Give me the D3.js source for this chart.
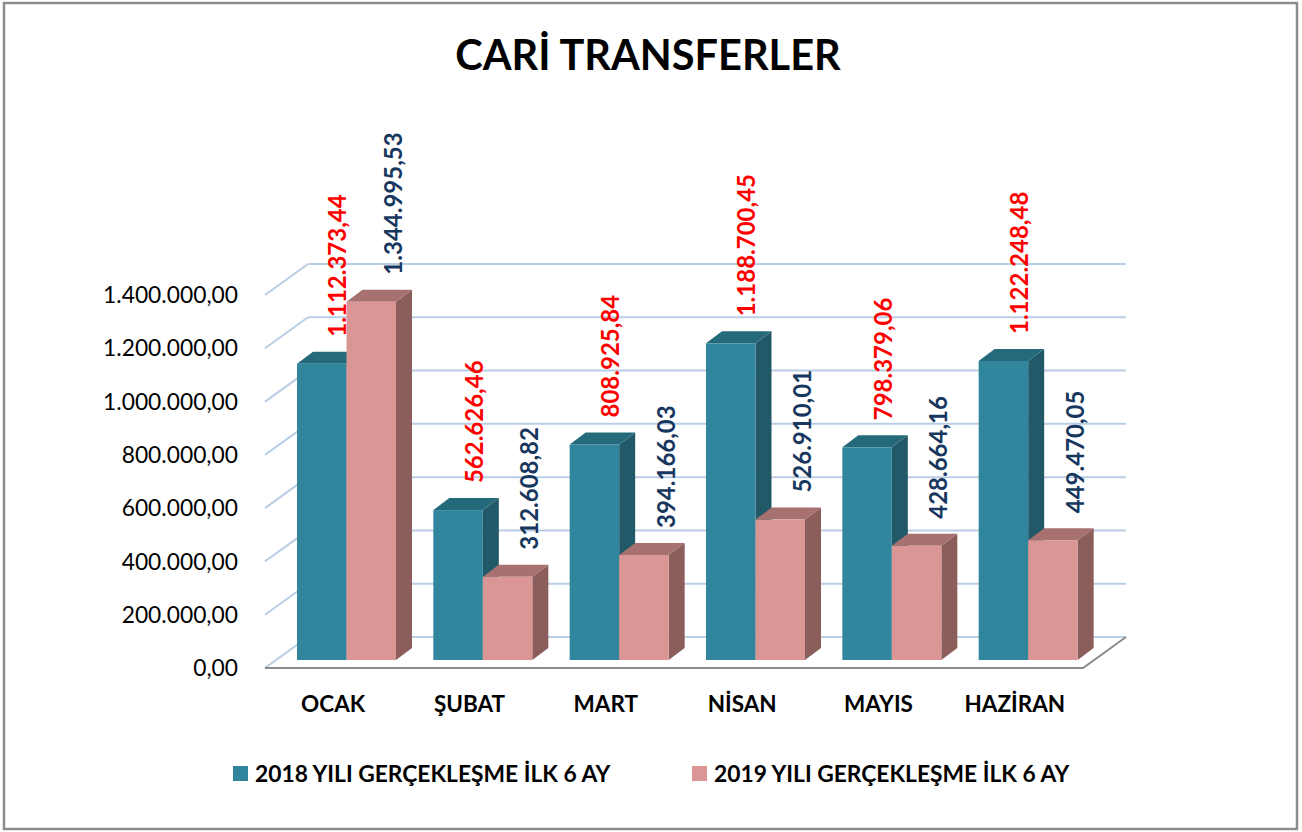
<!DOCTYPE html>
<html><head><meta charset="utf-8">
<script src="https://cdn.jsdelivr.net/npm/d3@7"></script>
<style>html,body{margin:0;padding:0;background:#fff;}svg{display:block;}</style>
</head><body>
<svg id="chart" width="1302" height="832"></svg>
<script>
const categories = ["OCAK","ŞUBAT","MART","NİSAN","MAYIS","HAZİRAN"];
const seriesNames = ["2018 YILI GERÇEKLEŞME İLK 6 AY","2019 YILI GERÇEKLEŞME İLK 6 AY"];
const values2018 = [1112373.44, 562626.46, 808925.84, 1188700.45, 798379.06, 1122248.48];
const values2019 = [1344995.53, 312608.82, 394166.03, 526910.01, 428664.16, 449470.05];
const tickValues = [0,200000,400000,600000,800000,1000000,1200000,1400000];
const title = "CARİ TRANSFERLER";

const FONT = "Lato, 'Open Sans', sans-serif";
const svg = d3.select("#chart");

const fmt = d3.formatLocale({decimal:",", thousands:".", grouping:[3], currency:["",""]}).format(",.2f");

// geometry
const floorDX = 43, floorDY = -31;
const barDX = 16, barDY = -12;
const yFront = d3.scaleLinear().domain([0,1400000]).range([668,295]);
const yBack = d3.scaleLinear().domain([0,1400000]).range([668+floorDY,295+floorDY]);
const yBar = d3.scaleLinear().domain([0,1400000]).range([660,287]);
const x0 = d3.scaleBand().domain(categories).range([265,1083]);
const x1 = d3.scaleBand().domain(seriesNames).range([32,131]);

// border
svg.append("rect").attr("x",4).attr("y",3).attr("width",1293).attr("height",826)
  .attr("fill","#fff").attr("stroke","#8c8c8c").attr("stroke-width",2.5);

// title
svg.append("text").attr("x",648).attr("y",70).attr("text-anchor","middle")
  .attr("font-family",FONT).attr("font-weight","bold").attr("font-size",41.5)
  .attr("fill","#000").text(title);

const grid = svg.append("g");
const x0L = x0.range()[0], x0R = x0.range()[1];
// back wall gridlines and side wall gridlines
tickValues.forEach(t=>{
  grid.append("line").attr("x1",x0L+floorDX).attr("x2",x0R+floorDX)
    .attr("y1",yBack(t)).attr("y2",yBack(t)).attr("stroke","#b9cde5").attr("stroke-width",2);
  grid.append("line").attr("x1",x0L).attr("x2",x0L+floorDX)
    .attr("y1",yFront(t)).attr("y2",yBack(t)).attr("stroke","#b9cde5").attr("stroke-width",2);
});
// floor front and right edges
grid.append("path")
  .attr("d",`M${x0L},${yFront(0)}L${x0R},${yFront(0)}L${x0R+floorDX},${yBack(0)}`)
  .attr("fill","none").attr("stroke","#8a8a8a").attr("stroke-width",2);

// y labels
svg.append("g").selectAll("text").data(tickValues).join("text")
  .attr("x",238).attr("y",d=>yFront(d)).attr("dy","0.36em").attr("text-anchor","end")
  .attr("font-family",FONT).attr("font-size",22.8).attr("fill","#000").text(d=>fmt(d));

// category labels
svg.append("g").selectAll("text").data(categories).join("text")
  .attr("x",d=>x0(d)+x0.bandwidth()/2).attr("y",712).attr("text-anchor","middle")
  .attr("font-family",FONT).attr("font-weight","bold").attr("font-size",22.5).attr("fill","#000").text(d=>d);

const styles = {
  [seriesNames[0]]: {front:"#31859c", top:"#246a7b", side:"#215968", label:"#ff0000", ldx:16},
  [seriesNames[1]]: {front:"#d99694", top:"#a6716f", side:"#8b5e5c", label:"#17375e", ldx:22}
};
const rows = [];
categories.forEach((c,i)=>{
  rows.push({cat:c, s:seriesNames[0], v:values2018[i]});
  rows.push({cat:c, s:seriesNames[1], v:values2019[i]});
});
const bars = svg.append("g");
rows.forEach(r=>{
  const st = styles[r.s];
  const xl = x0(r.cat)+x1(r.s), xr = xl + x1.bandwidth();
  const yt = yBar(r.v), yb = yBar(0);
  const g = bars.append("g");
  g.append("path").attr("d",`M${xr},${yt}L${xr+barDX},${yt+barDY}L${xr+barDX},${yb+barDY}L${xr},${yb}Z`).attr("fill",st.side);
  g.append("path").attr("d",`M${xl},${yt}L${xl+barDX},${yt+barDY}L${xr+barDX},${yt+barDY}L${xr},${yt}Z`).attr("fill",st.top);
  g.append("rect").attr("x",xl).attr("y",yt).attr("width",xr-xl).attr("height",yb-yt).attr("fill",st.front);
});
// data labels
const labels = svg.append("g");
rows.forEach(r=>{
  const st = styles[r.s];
  const cx = x0(r.cat)+x1(r.s)+x1.bandwidth()/2+st.ldx;
  const y = yBar(r.v)+barDY-15;
  labels.append("text").attr("transform",`translate(${cx},${y}) rotate(-90)`)
    .attr("dy","0.36em").attr("text-anchor","start")
    .attr("font-family",FONT).attr("font-weight","bold").attr("font-size",24)
    .attr("fill",st.label).text(fmt(r.v));
});

// legend
const legX = [233, 692];
const leg = svg.append("g");
seriesNames.forEach((s,i)=>{
  leg.append("rect").attr("x",legX[i]).attr("y",766).attr("width",15).attr("height",15).attr("fill",styles[s].front);
  leg.append("text").attr("x",legX[i]+22).attr("y",782).attr("font-family",FONT).attr("font-weight","bold")
    .attr("font-size",22.8).attr("fill","#000").text(s);
});
</script>
</body></html>
